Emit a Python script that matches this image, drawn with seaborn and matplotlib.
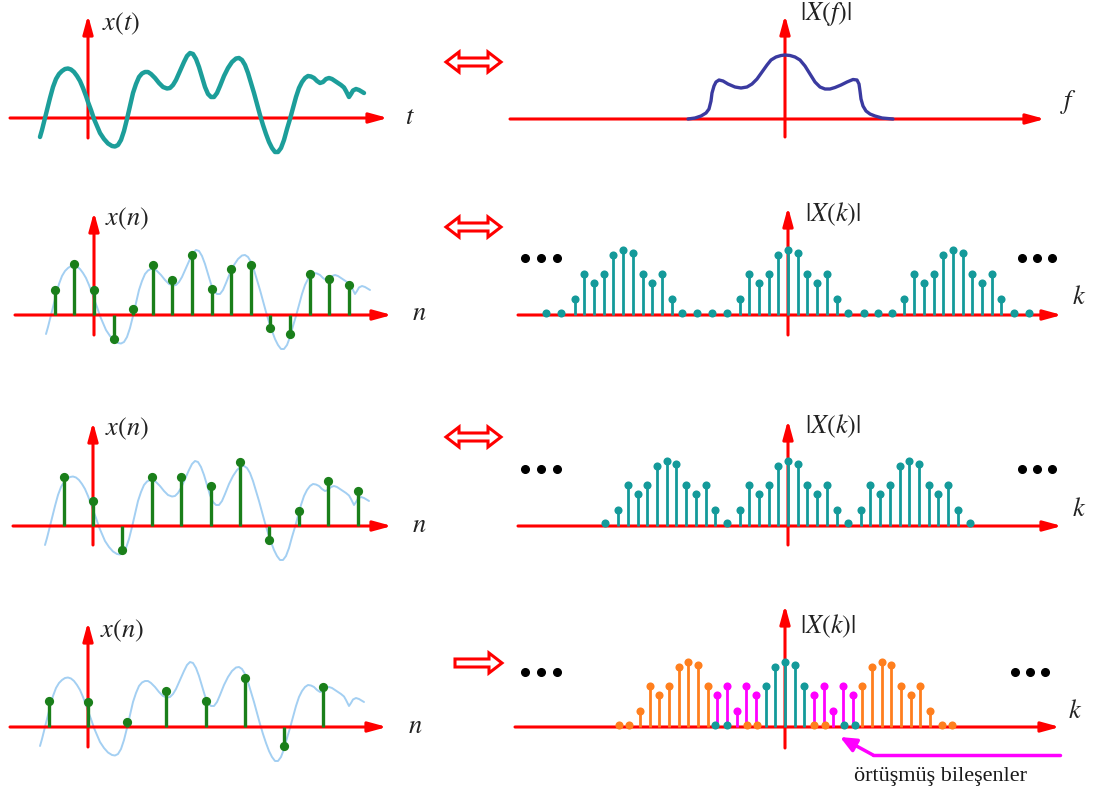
import matplotlib.pyplot as plt
import seaborn as sns
from matplotlib.patches import Polygon

sns.set_theme(style="white")
plt.rcParams['font.family'] = ['Liberation Serif', 'DejaVu Serif']
plt.rcParams['mathtext.fontset'] = 'stix'

# continuous signal x(t): time and amplitude (px from origin)
t_curve = [-48, -46, -44, -41, -38, -35, -32, -29, -26, -23, -20, -17, -14, -11, -8, -5, -2,
           0, 3, 6, 9, 12, 16, 20, 24, 27, 30, 33, 36, 39, 42, 45, 48, 51, 54, 57, 60, 63,
           67, 71, 75, 79, 82, 85, 88, 92, 96, 99, 102, 105, 108, 111, 114, 117, 120, 123,
           126, 129, 132, 136, 140, 144, 148, 151, 154, 157, 160, 163, 166, 169, 172, 175,
           178, 181, 184, 187, 190, 193, 196, 199, 202, 205, 208, 211, 214, 217, 220, 223,
           226, 229, 232, 235, 238, 241, 244, 247, 250, 253, 256, 258, 261, 263, 265, 268,
           271, 276]
x_curve = [-19, -12, -4, 8, 20, 31, 39, 44, 47, 49, 49.5, 48.5, 46, 42, 37, 30, 22,
           16, 8, -1, -8, -15, -21, -25.5, -28, -28.5, -27, -22, -13, -1, 12, 25, 34, 41, 44.5, 46, 46, 44,
           40, 35, 31, 29.5, 30, 33, 38, 47, 56, 62, 65, 64, 59, 51, 41, 31, 24, 21,
           21, 25, 32, 42, 50, 56, 59.5, 60, 58, 53, 45, 35, 25, 14, 3, -7,
           -16, -24, -30, -34, -34, -30, -22, -11, -1, 10, 21, 30, 36, 40, 42, 41.5,
           40, 37, 35, 36, 39, 40, 39, 37, 35, 33, 30.5, 27, 21, 24, 27.5, 29,
           28, 25]

# spectrum |X(f)|
f_curve = [-97, -90, -84, -79, -76, -74, -73, -71, -69, -66, -62, -57, -50, -44, -38, -33,
           -28, -23, -18, -14, -9, -4, 0, 5, 10, 15, 20, 25, 30, 35, 40, 45, 50, 56, 62, 68,
           72, 74, 75, 76, 78, 81, 85, 90, 97, 108]
Xf_curve = [0, 1, 3, 6, 10, 18, 26, 33, 37, 39, 38, 35, 32, 31, 32, 35,
            40, 47, 54, 59, 62, 63.5, 64, 63.5, 62, 59, 53, 45, 37, 32, 30, 30, 31.5, 34, 37, 39.5,
            39, 35, 28, 20, 13, 8, 5, 3, 1, 0]

# sampled sequences x(n) for three sampling steps
n_fast = [-2, -1, 0, 1, 2, 3, 4, 5, 6, 7, 8, 9, 10, 11, 12, 13]
x_fast = [25, 51, 25, -24, 6, 50, 35, 60, 26, 46, 50, -13, -19, 41, 36, 30]
Ts_fast = 19.6
n_mid = [-1, 0, 1, 2, 3, 4, 5, 6, 7, 8, 9]
x_mid = [49, 25, -24, 49, 49, 40, 64, -14, 15, 45, 35]
Ts_mid = 29.4
n_slow = [-1, 0, 1, 2, 3, 4, 5, 6]
x_slow = [26, 25, 5, 36, 26, 49, -19, 40]
Ts_slow = 39.2

# DFT magnitudes |X(k)|
k_fast = [-24.9, -23.4, -22, -21, -20, -19, -18, -17, -16, -15, -14, -13, -12,
          -10.9, -9.4, -7.8, -6.3, -5, -4, -3, -2, -1, 0, 1, 2, 3, 4, 5,
          6.2, 7.8, 9.3, 10.7, 12, 13, 14, 15, 16, 17, 18, 19, 20, 21, 22, 23.3, 24.8]
X_fast = [2, 2, 16, 41, 32, 41, 60, 65, 62, 41, 32, 41, 16,
          2, 2, 2, 2, 16, 41, 32, 41, 60, 65, 62, 41, 32, 41, 16,
          2, 2, 2, 2, 16, 41, 32, 41, 60, 65, 62, 41, 32, 41, 16, 2, 2]
k_mid = [-18.9, -17.5, -16.5, -15.5, -14.5, -13.5, -12.5, -11.5, -10.5, -9.5, -8.5, -7.5,
         -6.3, -5, -4, -3, -2, -1, 0, 1, 2, 3, 4, 5,
         6.2, 7.5, 8.5, 9.5, 10.5, 11.5, 12.5, 13.5, 14.5, 15.5, 16.5, 17.5, 18.8]
X_mid = [3, 16, 41, 32, 41, 60, 65, 62, 41, 32, 41, 16,
         3, 16, 41, 32, 41, 60, 65, 62, 41, 32, 41, 16,
         3, 16, 41, 32, 41, 60, 65, 62, 41, 32, 41, 16, 3]
k_side = [-17.2, -16.1, -15, -14, -13, -12, -11, -10, -9, -8, -3.9, -2.9,
          3, 4.1, 8, 9, 10, 11, 12, 13, 14, 15, 16.2, 17.3]
X_side = [2, 2, 16, 41, 32, 41, 60, 65, 62, 41, 2, 2,
          2, 2, 41, 60, 65, 62, 41, 32, 41, 16, 2, 2]
k_main = [-7.2, -6, -2, -1, 0, 1, 2, 6.1, 7.2]
X_main = [2, 2, 41, 60, 65, 62, 41, 2, 2]
k_alias = [-7, -6, -5, -4, -3, 3, 4, 5, 6, 7]
X_alias = [32, 41, 16, 41, 32, 32, 41, 16, 41, 32]

RED = '#ff0000'
TEAL_LINE = '#1c9e9a'
LIGHT = '#a3cff2'
GREEN = '#1a7f1a'
TEAL = '#149a9a'
ORANGE = '#ff7f1e'
MAGENTA = '#ff00ff'
NAVY = '#3a3aa0'

W, H = 1102, 796
fig = plt.figure(figsize=(W / 100, H / 100), dpi=100)
canvas = fig.add_axes([0, 0, 1, 1])
canvas.set_xlim(0, W)
canvas.set_ylim(H, 0)
canvas.set_axis_off()


def panel(box, origin, sx=1.0):
    x0, y0, w, h = box
    ox, oy = origin
    ax = fig.add_axes([x0 / W, 1 - (y0 + h) / H, w / W, h / H])
    ax.set_xlim((x0 - ox) / sx, (x0 + w - ox) / sx)
    ax.set_ylim(oy - (y0 + h), oy - y0)
    ax.set_axis_off()
    return ax


def draw_axes(ax, origin, sx, hx, vy):
    ox, oy = origin
    style = dict(arrowstyle='-|>,head_length=1.1,head_width=0.3', color=RED, lw=2.2,
                 mutation_scale=10, shrinkA=0, shrinkB=0)
    ax.annotate('', xy=((hx[1] - ox) / sx, 0), xytext=((hx[0] - ox) / sx, 0),
                arrowprops=style, zorder=2)
    ax.annotate('', xy=(0, oy - vy[1]), xytext=(0, oy - vy[0]),
                arrowprops=style, zorder=2)


def stems(ax, k, v, color, s=34, lw=2.0):
    ax.vlines(k, 0, v, color=color, lw=lw, zorder=3)
    sns.scatterplot(x=k, y=v, color=color, s=s, linewidth=0, ax=ax, zorder=4)


def block_arrow(x0, x1, y, double=True, hl=13, hh=10, th=4):
    if double:
        pts = [(x0, y), (x0 + hl, y - hh), (x0 + hl, y - th), (x1 - hl, y - th),
               (x1 - hl, y - hh), (x1, y), (x1 - hl, y + hh), (x1 - hl, y + th),
               (x0 + hl, y + th), (x0 + hl, y + hh)]
    else:
        pts = [(x0, y - th), (x1 - hl, y - th), (x1 - hl, y - hh), (x1, y),
               (x1 - hl, y + hh), (x1 - hl, y + th), (x0, y + th)]
    canvas.add_patch(Polygon(pts, closed=True, fc='white', ec=RED, lw=2.2, joinstyle='miter'))


# ---- left column: time domain ----
left = [
    ((0, 0, 430, 190), (88, 118), (10, 388), (138, 15), r'$x(t)$', (102, 24), r'$t$', (405, 118)),
    ((0, 190, 430, 210), (94, 315), (15, 392), (335, 212), r'$x(n)$', (105, 219), r'$n$', (412, 314)),
    ((0, 400, 430, 200), (93, 526), (13, 392), (545, 422), r'$x(n)$', (105, 429), r'$n$', (412, 526)),
    ((0, 600, 430, 196), (88, 727), (10, 387), (747, 622), r'$x(n)$', (100, 631), r'$n$', (408, 727)),
]
samples = [None, (n_fast, x_fast, Ts_fast), (n_mid, x_mid, Ts_mid), (n_slow, x_slow, Ts_slow)]

for i, (box, origin, hx, vy, lab, lab_xy, var, var_xy) in enumerate(left):
    ax = panel(box, origin)
    draw_axes(ax, origin, 1.0, hx, vy)
    if i == 0:
        sns.lineplot(x=t_curve, y=x_curve, sort=False, color=TEAL_LINE, lw=3.2, ax=ax, zorder=3,
                     solid_joinstyle='round', solid_capstyle='round')
    else:
        sns.lineplot(x=t_curve, y=x_curve, sort=False, color=LIGHT, lw=1.4, ax=ax, zorder=1,
                     solid_joinstyle='round')
        n, v, Ts = samples[i]
        stems(ax, [j * Ts for j in n], v, GREEN, s=44, lw=2.4)
    canvas.text(*lab_xy, lab, fontsize=19, ha='left', va='center', color='#222222')
    canvas.text(*var_xy, var, fontsize=19, ha='left', va='center', color='#222222')

# ---- right column: frequency domain ----
right = [
    ((505, 0, 597, 190), (785, 119), 1.0, (510, 1045), (137, 15), r'$|X(f)|$', (800, 14), r'$f$', (1060, 102)),
    ((505, 190, 597, 210), (788, 315), 9.7, (518, 1062), (335, 207), r'$|X(k)|$', (805, 214), r'$k$', (1072, 298)),
    ((505, 400, 597, 200), (788, 526), 9.7, (518, 1062), (545, 420), r'$|X(k)|$', (805, 426), r'$k$', (1072, 510)),
    ((505, 600, 597, 196), (785, 727), 9.67, (515, 1060), (748, 605), r'$|X(k)|$', (800, 626), r'$k$', (1068, 712)),
]
dots_y = [None, 258, 469, 672]

for i, (box, origin, sx, hx, vy, lab, lab_xy, var, var_xy) in enumerate(right):
    ax = panel(box, origin, sx)
    draw_axes(ax, origin, sx, hx, vy)
    if i == 0:
        sns.lineplot(x=f_curve, y=Xf_curve, sort=False, color=NAVY, lw=2.4, ax=ax, zorder=3,
                     solid_joinstyle='round')
    elif i == 1:
        stems(ax, k_fast, X_fast, TEAL)
    elif i == 2:
        stems(ax, k_mid, X_mid, TEAL)
    else:
        stems(ax, k_side, X_side, ORANGE)
        stems(ax, k_main, X_main, TEAL)
        stems(ax, k_alias, X_alias, MAGENTA)
    canvas.text(*lab_xy, lab, fontsize=19, ha='left', va='center', color='#222222')
    canvas.text(*var_xy, var, fontsize=19, ha='left', va='center', color='#222222')
    if dots_y[i] is not None:
        dx = [525, 541, 557, 1022, 1037, 1052] if i < 3 else [525, 541, 557, 1015, 1030, 1045]
        canvas.plot(dx, [dots_y[i]] * 6, 'o', color='black', ms=5.5, ls='none')

# ---- transform arrows between columns ----
for y in [62, 227, 437]:
    block_arrow(446, 501, y)
block_arrow(455, 502, 663, double=False)

# ---- aliasing callout ----
canvas.plot([1060, 873], [755, 755], color=MAGENTA, lw=2.5)
canvas.annotate('', xy=(840, 737), xytext=(873, 755),
                arrowprops=dict(arrowstyle='-|>,head_length=0.8,head_width=0.35', color=MAGENTA,
                                lw=2.5, mutation_scale=12, shrinkA=0, shrinkB=0))
canvas.text(940, 776, 'örtüşmüş bileşenler', fontsize=16, ha='center', va='center', color='#1a1a1a')

fig.savefig('out.png', dpi=100)
